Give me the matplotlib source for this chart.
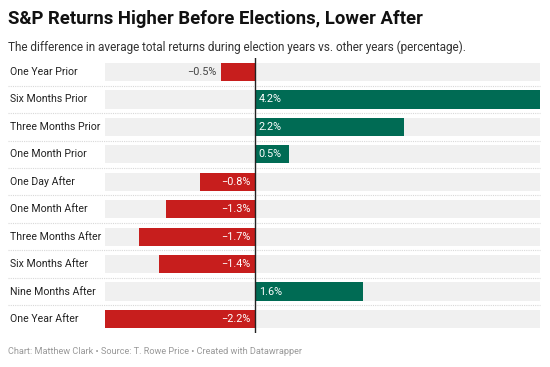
import matplotlib.pyplot as plt
from matplotlib.transforms import blended_transform_factory

plt.rcParams['font.family'] = ['Roboto', 'DejaVu Sans']

periods = ["One Year Prior", "Six Months Prior", "Three Months Prior", "One Month Prior",
           "One Day After", "One Month After", "Three Months After", "Six Months After",
           "Nine Months After", "One Year After"]
diffs = [-0.5, 4.2, 2.2, 0.5, -0.8, -1.3, -1.7, -1.4, 1.6, -2.2]

red = "#c71e1d"
green = "#006b54"

W, H = 550, 367
fig = plt.figure(figsize=(W / 100, H / 100), dpi=100)
fig.patch.set_facecolor("white")

# axes placed in pixel coordinates
left, right, top, bottom = 105, 540, 58.3, 332.7
ax = fig.add_axes([left / W, 1 - bottom / H, (right - left) / W, (bottom - top) / H])
ax.set_xlim(min(diffs), max(diffs))
ax.set_ylim(len(periods) - 0.5, -0.5)
ax.axis("off")

ypos = list(range(len(periods)))
h = 0.66
lo, hi = ax.get_xlim()

# grey background bars
ax.barh(ypos, [hi - lo] * len(periods), left=lo, height=h, color="#f0f0f0", zorder=1)

colors = [green if v > 0 else red for v in diffs]
ax.barh(ypos, diffs, height=h, color=colors, zorder=2)
ax.axvline(0, color="#222222", lw=1, zorder=3)

# dotted separators
for i in range(len(periods) - 1):
    ax.axhline(i + 0.5, xmin=(8 - left) / (right - left), xmax=1, color="#d8d8d8",
               lw=0.8, ls=(0, (1, 1)), clip_on=False, zorder=0)

trans = blended_transform_factory(fig.transFigure, ax.transData)
for i, (name, v) in enumerate(zip(periods, diffs)):
    fig.text(10 / W, i, name, transform=trans, ha="left", va="center",
             fontsize=7.6, color="#222222")
    label = f"{v:.1f}%".replace("-", "\u2212")
    if v > 0:
        ax.text(0.06, i, label, ha="left", va="center", fontsize=7.8, color="white", zorder=4)
    elif abs(v) < 0.6:
        ax.text(v - 0.06, i, label, ha="right", va="center", fontsize=7.8, color="#444444", zorder=4)
    else:
        ax.text(-0.06, i, label, ha="right", va="center", fontsize=7.8, color="white", zorder=4)

fig.text(8 / W, 1 - 19 / H, "S&P Returns Higher Before Elections, Lower After",
         fontsize=13.3, fontweight="bold", color="#111111", va="center", ha="left")
fig.text(8 / W, 1 - 47 / H,
         "The difference in average total returns during election years vs. other years (percentage).",
         fontsize=8.5, color="#333333", va="center", ha="left")
fig.text(8 / W, 1 - 352 / H,
         "Chart: Matthew Clark \u2022 Source: T. Rowe Price \u2022 Created with Datawrapper",
         fontsize=6.6, color="#999999", va="center", ha="left")

fig.savefig("out.png", dpi=100)
